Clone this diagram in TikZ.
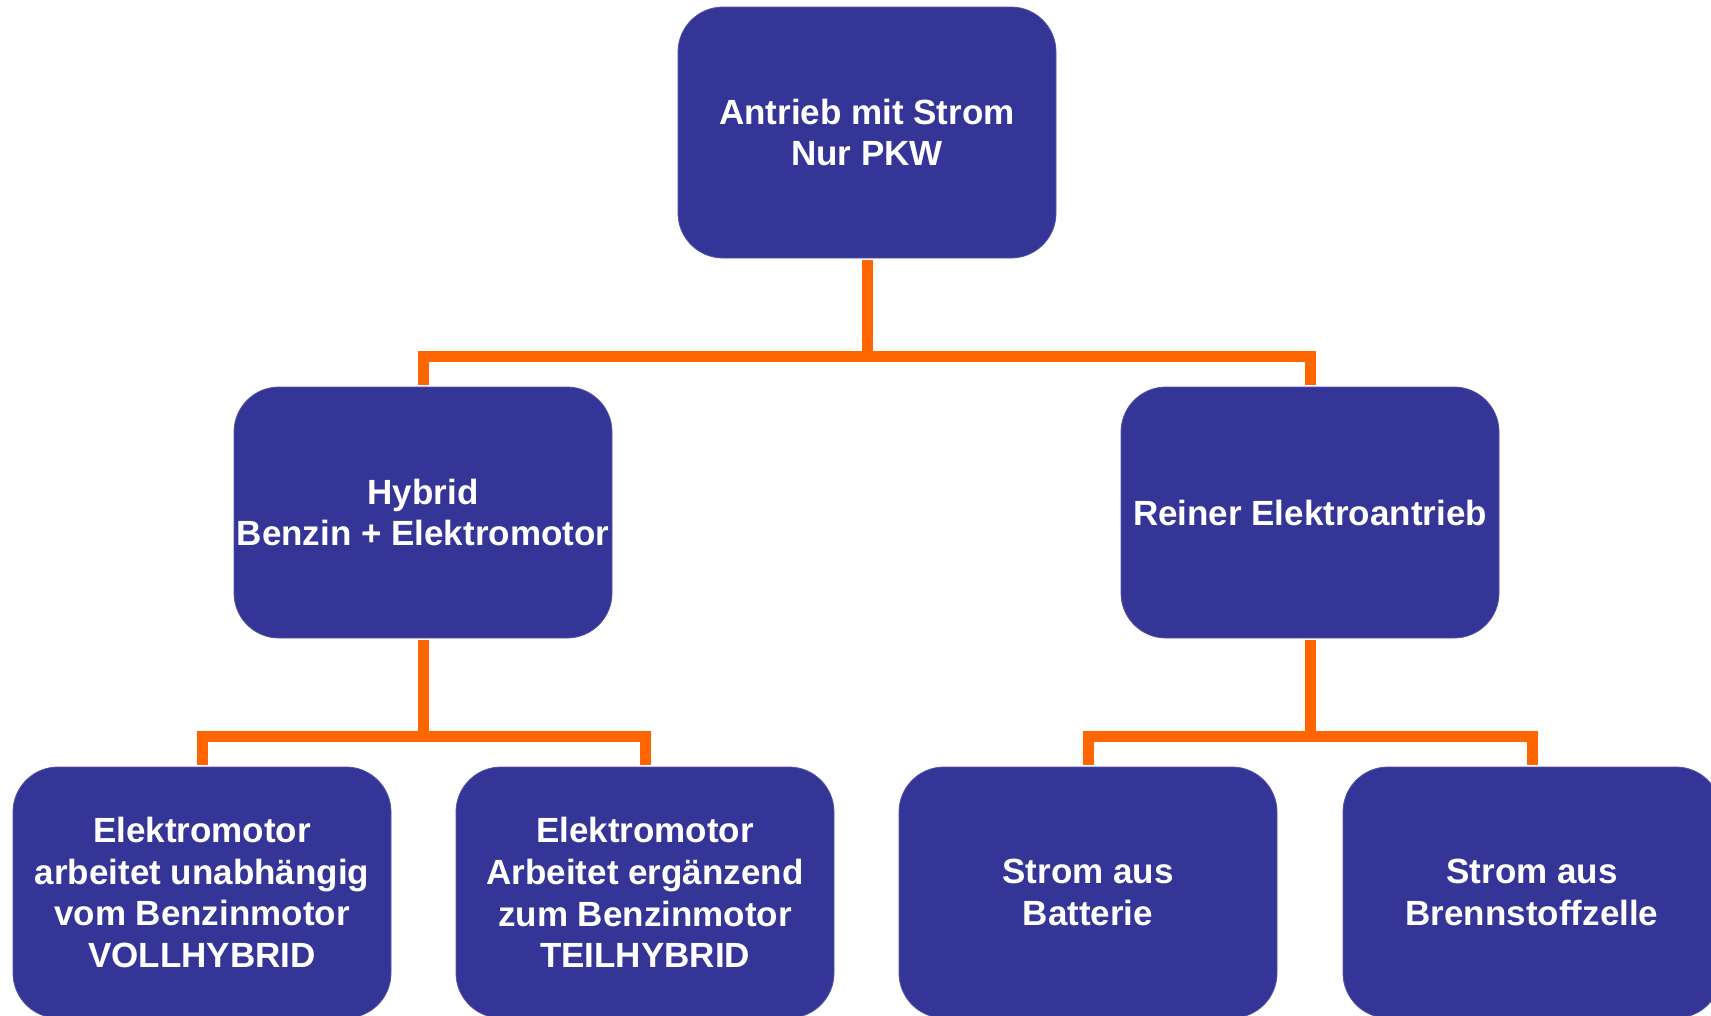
\documentclass[tikz,border=0pt]{standalone}
\usepackage{fontspec}
\setmainfont{Liberation Sans}
\definecolor{boxblue}{RGB}{53,53,152}
\definecolor{linkorange}{RGB}{255,102,0}
\begin{document}
\begin{tikzpicture}[x=1pt,y=-1pt,
  box/.style={rectangle, rounded corners=45pt, fill=boxblue, draw=boxblue!85!white, line width=0.8pt,
    minimum width=378pt, minimum height=251pt, inner sep=0pt, text=white, align=center,
    font=\fontsize{35pt}{41.7pt}\selectfont\bfseries},
  link/.style={draw=linkorange, line width=11pt}]
\useasboundingbox (0,0) rectangle (1711,1015);
\clip (0,0) rectangle (1711,1015);
\node[box] (top) at (867,132.5) {Antrieb mit Strom\\Nur PKW};
\node[box] (hyb) at (423,512.5) {Hybrid\\Benzin + Elektromotor};
\node[box] (rei) at (1310,512.5) {Reiner Elektroantrieb};
\node[box] (b1) at (202,892.5) {Elektromotor\\arbeitet unabhängig\\vom Benzinmotor\\VOLLHYBRID};
\node[box] (b2) at (645,892.5) {Elektromotor\\Arbeitet ergänzend\\zum Benzinmotor\\TEILHYBRID};
\node[box] (b3) at (1088,892.5) {Strom aus\\Batterie};
\node[box] (b4) at (1532,892.5) {Strom aus\\Brennstoffzelle};
\coordinate (j1) at (867,356);
\coordinate (j2) at (423,736.5);
\coordinate (j3) at (1310,736.5);
\draw[link] ([yshift=-2pt]top.south) -- ([yshift=5pt]j1);
\draw[link] ([yshift=2pt]hyb.north) |- (j1) -| ([yshift=2pt]rei.north);
\draw[link] ([yshift=-2pt]hyb.south) -- ([yshift=5pt]j2);
\draw[link] ([yshift=2pt]b1.north) |- (j2) -| ([yshift=2pt]b2.north);
\draw[link] ([yshift=-2pt]rei.south) -- ([yshift=5pt]j3);
\draw[link] ([yshift=2pt]b3.north) |- (j3) -| ([yshift=2pt]b4.north);
\end{tikzpicture}
\end{document}
